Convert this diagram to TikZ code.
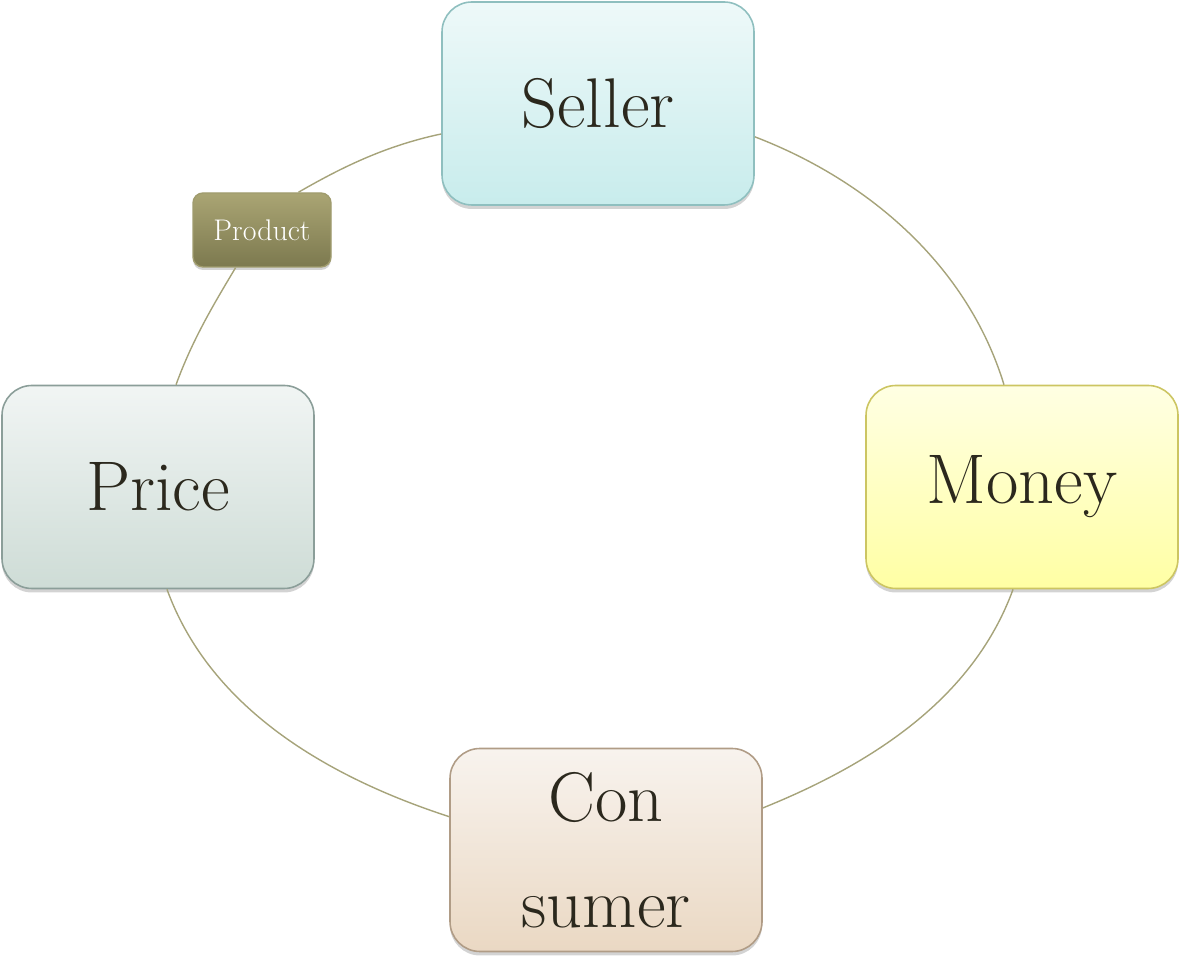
\documentclass[tikz,border=0pt]{standalone}
\usepackage{fontspec}
\usepackage{tikz}
\usetikzlibrary{shadows}
\definecolor{ringline}{HTML}{A6A37A}
\definecolor{inktext}{HTML}{2B281D}
\definecolor{sellerline}{HTML}{8FBFBF}
\definecolor{sellertop}{HTML}{EEF9F9}
\definecolor{sellerbot}{HTML}{C8ECEC}
\definecolor{moneyline}{HTML}{CCC562}
\definecolor{moneytop}{HTML}{FFFFE3}
\definecolor{moneybot}{HTML}{FFFFA4}
\definecolor{consumerline}{HTML}{B09C86}
\definecolor{consumertop}{HTML}{F8F3EE}
\definecolor{consumerbot}{HTML}{EAD8C3}
\definecolor{priceline}{HTML}{8B9E99}
\definecolor{pricetop}{HTML}{F1F5F4}
\definecolor{pricebot}{HTML}{CEDCD6}
\definecolor{productline}{HTML}{A09C6E}
\definecolor{producttop}{HTML}{AAA574}
\definecolor{productbot}{HTML}{7C794F}

\begin{document}
\begin{tikzpicture}[
		box/.style={rounded corners=0.6cm, minimum width=6.24cm, minimum height=4.06cm,
			line width=0.9pt, text=inktext, align=center,
			font=\fontsize{40}{60}\selectfont,
			drop shadow={shadow xshift=0pt, shadow yshift=-0.08cm, opacity=0.35}},
		tag/.style={rounded corners=0.2cm, minimum width=2.76cm, minimum height=1.48cm,
			line width=0.8pt, text=white, font=\fontsize{17}{20}\selectfont,
			drop shadow={shadow xshift=0pt, shadow yshift=-0.06cm, opacity=0.35}},
		ring/.style={ringline, line width=0.8pt, looseness=0.9}
	]
		\useasboundingbox (0,0) rectangle (23.62,19.12);
		%
		\node[box, draw=sellerline, top color=sellertop, bottom color=sellerbot] (seller) at (11.96,17.05) {Seller};
		\node[box, draw=moneyline, top color=moneytop, bottom color=moneybot] (money) at (20.44,9.38) {Money};
		\node[box, draw=consumerline, top color=consumertop, bottom color=consumerbot] (consumer) at (12.12,2.12) {Con\\sumer};
		\node[box, draw=priceline, top color=pricetop, bottom color=pricebot] (price) at (3.16,9.38) {Price};
		\node[tag, draw=productline, top color=producttop, bottom color=productbot] (product) at (5.24,14.52) {Product};
		%
		\draw[ring] (seller.-12) to[out=-21,in=107] (money.100);
		\draw[ring] (money.265) to[out=-110,in=22] (consumer.15);
		\draw[ring] (consumer.168) to[out=162,in=-70] (price.-85);
		\draw[ring] (price.80) to[out=70,in=239] (product.235);
		\draw[ring] (product.46) to[out=30,in=192] (seller.191);
	\end{tikzpicture}
\end{document}
